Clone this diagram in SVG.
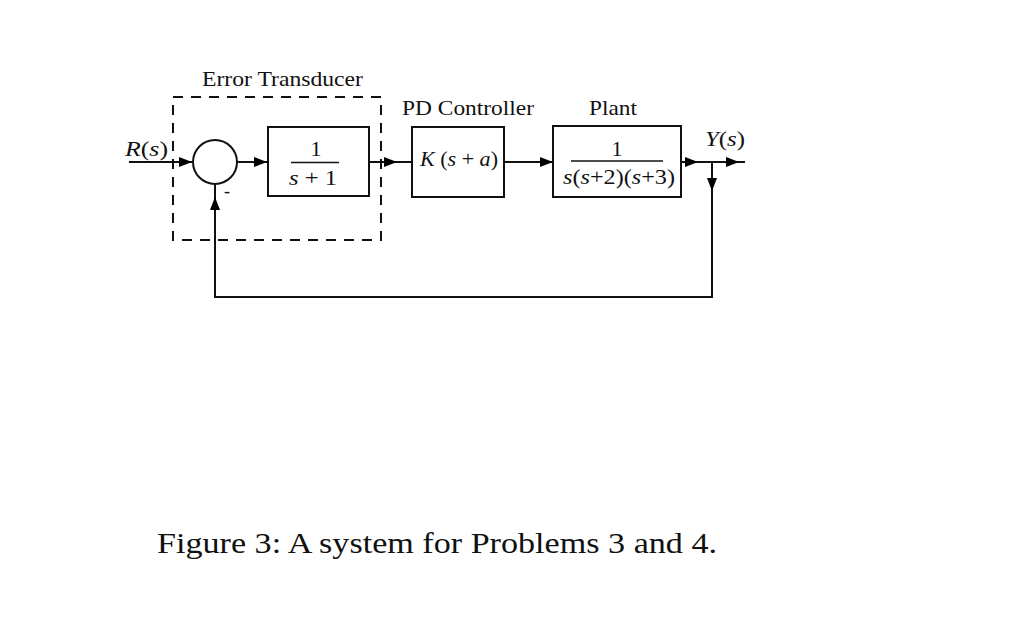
<svg xmlns="http://www.w3.org/2000/svg" width="1024" height="628" viewBox="0 0 1024 628">
<defs>
<marker id="ah" viewBox="0 0 13 10" refX="13" refY="5" markerWidth="13" markerHeight="10" markerUnits="userSpaceOnUse" orient="auto">
<path d="M0,0 L13,5 L0,10 z" fill="#000"/>
</marker>
<style>
.blk{fill:#fff;stroke:#111;stroke-width:2}
.ln{fill:none;stroke:#111;stroke-width:2}
.arr{fill:none;stroke:#111;stroke-width:2;marker-end:url(#ah)}
.dash{fill:none;stroke:#111;stroke-width:2;stroke-dasharray:10 8}
.t{font-family:"Liberation Serif","Times New Roman",serif;fill:#111}
.i{font-style:italic}
</style>
</defs>
<rect width="1024" height="628" fill="#fff"/>
<g id="error-transducer">
<rect class="dash" x="173" y="97" width="208" height="143"/>
<text class="t" x="202" y="86" font-size="21" textLength="161" lengthAdjust="spacingAndGlyphs">Error Transducer</text>
</g>
<g id="connectors">
<path class="arr" d="M129,162 H192"/>
<path class="arr" d="M237,162 H267"/>
<path class="arr" d="M369,162 H397"/>
<path class="ln" d="M397,162 H412"/>
<path class="arr" d="M504,162 H553"/>
<path class="arr" d="M681,162 H698"/>
<path class="ln" d="M698,162 H725"/>
<path class="arr" d="M712,162 V191"/>
<path class="arr" d="M712,162 H739"/>
<path class="ln" d="M739,162 H745"/>
<path class="ln" d="M712,191 V297 H215 V208"/>
<path class="arr" d="M215,210 V197"/>
<path class="ln" d="M215,197 V184"/>
</g>
<g id="input-label">
<text class="t" x="125" y="156" font-size="21" textLength="43" lengthAdjust="spacingAndGlyphs"><tspan class="i">R</tspan>(<tspan class="i">s</tspan>)</text>
</g>
<g id="summing-junction">
<circle cx="215" cy="162" r="22" fill="#fff" stroke="#111" stroke-width="2"/>
<text class="t" x="224" y="197" font-size="18">-</text>
</g>
<g id="block-1">
<rect class="blk" x="268" y="127" width="101" height="69"/>
<text class="t" x="316" y="156" font-size="22" text-anchor="middle">1</text>
<line x1="291" y1="162.5" x2="339" y2="162.5" stroke="#111" stroke-width="1.5"/>
<text class="t" x="289" y="185" font-size="21" textLength="48" lengthAdjust="spacingAndGlyphs"><tspan class="i">s</tspan> + 1</text>
</g>
<g id="pd-controller">
<rect class="blk" x="412" y="127" width="92" height="70"/>
<text class="t" x="402" y="115" font-size="21" textLength="132" lengthAdjust="spacingAndGlyphs">PD Controller</text>
<text class="t" x="420" y="166" font-size="21" textLength="78" lengthAdjust="spacingAndGlyphs"><tspan class="i">K</tspan> (<tspan class="i">s</tspan> + <tspan class="i">a</tspan>)</text>
</g>
<g id="plant">
<rect class="blk" x="553" y="126" width="128" height="71"/>
<text class="t" x="589" y="115" font-size="21" textLength="48" lengthAdjust="spacingAndGlyphs">Plant</text>
<text class="t" x="617" y="156" font-size="22" text-anchor="middle">1</text>
<line x1="571" y1="161" x2="663" y2="161" stroke="#111" stroke-width="1.5"/>
<text class="t" x="563" y="184" font-size="21" textLength="112" lengthAdjust="spacingAndGlyphs"><tspan class="i">s</tspan>(<tspan class="i">s</tspan>+2)(<tspan class="i">s</tspan>+3)</text>
</g>
<g id="output-label">
<text class="t" x="705" y="146" font-size="21" textLength="40" lengthAdjust="spacingAndGlyphs"><tspan class="i">Y</tspan>(<tspan class="i">s</tspan>)</text>
</g>
<text class="t" x="157" y="553" font-size="30" textLength="560" lengthAdjust="spacingAndGlyphs">Figure 3: A system for Problems 3 and 4.</text>
</svg>
